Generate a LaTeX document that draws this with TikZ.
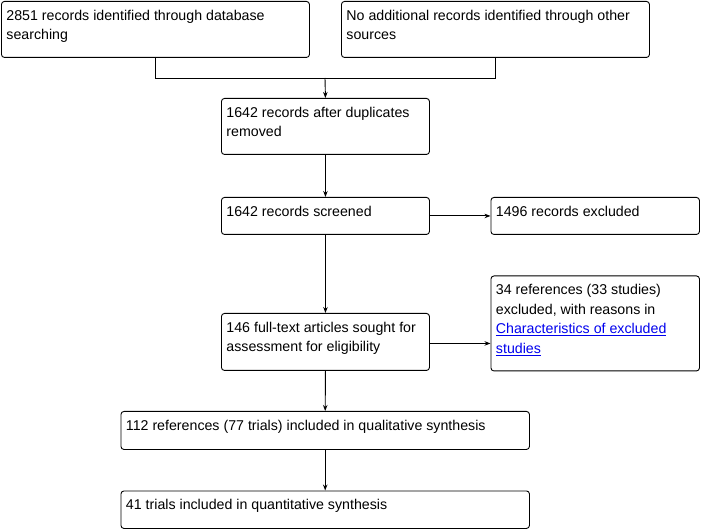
\documentclass[tikz,border=0pt]{standalone}
\usepackage{fontspec}
\setmainfont{Liberation Sans}
\usetikzlibrary{arrows.meta}
\definecolor{linkblue}{RGB}{0,0,238}
\newcommand\boxtext[3]{\parbox[c][#2][t]{#1}{\fontsize{14.2pt}{19.5pt}\selectfont\raggedright\rule{0pt}{19pt}#3}}
\newcommand\lnk[1]{{\color{linkblue}\underline{#1}}}
\tikzset{
  x=1pt, y=1pt,
  flowbox/.style={draw=black, line width=0.9pt, rounded corners=3pt, inner xsep=5pt, inner ysep=0pt, anchor=north west, fill=white},
  conn/.style={draw=black, line width=0.9pt},
  arr/.style={conn, -{Stealth[length=6pt,width=4.5pt]}}
}
\begin{document}
\begin{tikzpicture}
\useasboundingbox (0,0) rectangle (702,-529);
\node[flowbox] (a) at (1,-1) {\boxtext{298pt}{56pt}{2851 records identified through database\\searching}};
\node[flowbox] (b) at (341,-1) {\boxtext{298pt}{56pt}{No additional records identified through other\\sources}};
\node[flowbox] (c) at (221,-98) {\boxtext{198pt}{56pt}{1642 records after duplicates\\removed}};
\node[flowbox] (d) at (221,-197) {\boxtext{198pt}{37pt}{1642 records screened}};
\node[flowbox] (e) at (490.5,-197) {\boxtext{198.5pt}{37pt}{1496 records excluded}};
\node[flowbox] (f) at (221,-313) {\boxtext{198pt}{57pt}{146 full-text articles sought for\\assessment for eligibility}};
\node[flowbox] (g) at (490.5,-275.5) {\boxtext{198.5pt}{95pt}{34 references (33 studies)\\excluded, with reasons in\\\lnk{Characteristics of excluded}\\\lnk{studies}}};
\node[flowbox] (h) at (120.5,-411) {\boxtext{398.5pt}{38pt}{112 references (77 trials) included in qualitative synthesis}};
\node[flowbox] (i) at (120.5,-490.5) {\boxtext{398.5pt}{37.5pt}{41 trials included in quantitative synthesis}};
\coordinate (j) at (325,-78);
\draw[conn] (a.south) |- (j);
\draw[conn] (b.south) |- (j);
\draw[arr] (j) -- (c.north);
\draw[arr] (c.south) -- (d.north);
\draw[arr] (d.east) -- (e.west);
\draw[arr] (d.south) -- (f.north);
\draw[arr] ([yshift=-1.5pt]f.east) -- ([yshift=-1.5pt]f.east -| g.west);
\draw[arr] (f.south) -- (h.north);
\draw[arr] (h.south) -- (i.north);
\end{tikzpicture}
\end{document}
